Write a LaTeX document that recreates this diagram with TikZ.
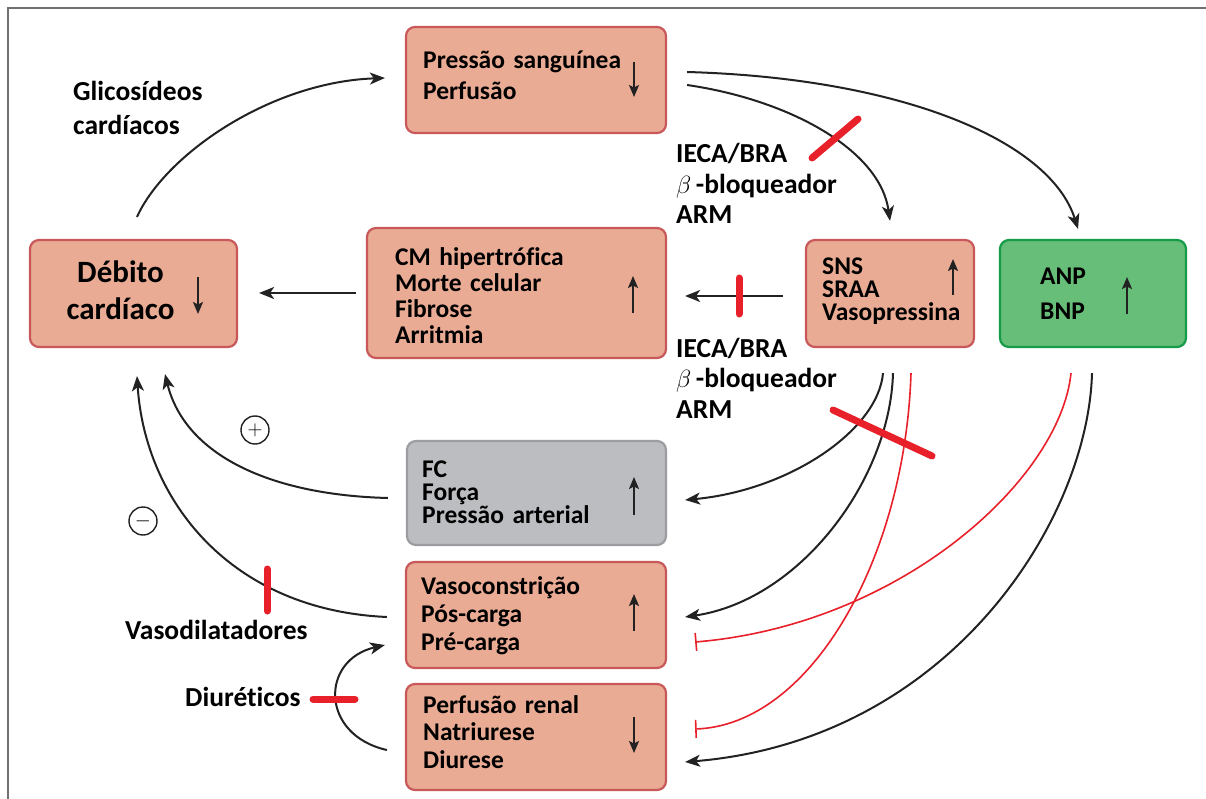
\documentclass[tikz,border=0pt]{standalone}
\usepackage{fontspec}
\setmainfont{Carlito}[Ligatures=NoCommon]
\usetikzlibrary{arrows.meta,calc}
\definecolor{salmon}{HTML}{EAAB94}
\definecolor{salmonline}{HTML}{C9585A}
\definecolor{grayfill}{HTML}{BCBDC1}
\definecolor{grayline}{HTML}{9C9DA1}
\definecolor{greenfill}{HTML}{66BE78}
\definecolor{greenline}{HTML}{169B48}
\definecolor{redc}{HTML}{E8202A}
\definecolor{ink}{HTML}{222222}
\definecolor{framec}{HTML}{707070}
\begin{document}
\begin{tikzpicture}[x=1pt,y=-1pt,
  boxbase/.style={draw, line width=2.2pt, rounded corners=9pt, inner sep=0pt},
  sbox/.style={boxbase, draw=salmonline, fill=salmon},
  gbox/.style={boxbase, draw=grayline, fill=grayfill},
  nbox/.style={boxbase, draw=greenline, fill=greenfill},
  btxt/.style={font=\bfseries\fontsize{25.5}{#1}\selectfont, anchor=base west, align=left, text width=250pt, inner sep=0pt, text=black},
  ltxt/.style={font=\bfseries\fontsize{27.5}{#1}\selectfont, anchor=base west, align=left, text width=250pt, inner sep=0pt, text=black},
  conn/.style={draw=ink, line width=2pt, -{Stealth[length=15pt,width=12pt,inset=4pt]}},
  inarr/.style={draw=ink, line width=2pt, -{Stealth[length=12pt,width=10pt,inset=2.5pt]}},
  inh/.style={draw=redc, line width=1.6pt, -{Bar[width=18pt]}},
  blocker/.style={draw=redc, line width=7pt, line cap=round},
  circ/.style={draw=ink, circle, line width=1.4pt, minimum size=28pt, inner sep=0pt, font=\fontsize{20}{20}\selectfont}
]
\useasboundingbox (0,0) rectangle (1206,799);
\fill[white] (0,0) rectangle (1206,799);
% frame
\draw[framec, line width=1.8pt] (8,799) -- (8,8) -- (1206,8);

% boxes
\node[sbox, minimum width=260, minimum height=106] (pb) at (536,80) {};
\node[sbox, minimum width=207, minimum height=107] (dc) at (133.5,293.5) {};
\node[sbox, minimum width=299, minimum height=130] (cm) at (516.5,293) {};
\node[sbox, minimum width=168, minimum height=107] (sns) at (890,293.5) {};
\node[nbox, minimum width=186, minimum height=107] (anp) at (1093,293.5) {};
\node[gbox, minimum width=259, minimum height=104] (fc) at (536.5,493) {};
\node[sbox, minimum width=260, minimum height=106] (vc) at (536,615) {};
\node[sbox, minimum width=260, minimum height=106] (pr) at (536,737) {};

% box texts
\node[btxt=31] (pbt) at (423,69) {Pressão sanguínea\\Perfusão};
\node[font=\bfseries\fontsize{31}{37}\selectfont, anchor=base, align=center, text width=160pt, inner sep=0pt] (dct) at (120.5,283) {Débito\\cardíaco};
\node[btxt=25.7] (cmt) at (395,266) {CM hipertrófica\\Morte celular\\Fibrose\\Arritmia};
\node[btxt=23] (snst) at (822,275) {SNS\\SRAA\\Vasopressina};
\node[btxt=35] (anpt) at (1040,285) {ANP\\BNP};
\node[btxt=23] (fct) at (422,477) {FC\\Força\\Pressão arterial};
\node[btxt=28] (vct) at (421,594) {Vasoconstrição\\Pós-carga\\Pré-carga};
\node[btxt=27.5] (prt) at (423,713) {Perfusão renal\\Natriurese\\Diurese};

% arrows inside boxes
\draw[inarr] (634,62) -- (634,97);
\draw[inarr] (198,277) -- (198,314);
\draw[inarr] (633,313) -- (633,276);
\draw[inarr] (953,295) -- (953,259);
\draw[inarr] (1127,314) -- (1127,277);
\draw[inarr] (634,515) -- (634,477);
\draw[inarr] (634,631) -- (634,594);
\draw[inarr] (634,717) -- (634,753);

% labels
\node[ltxt=34] (glic) at (73,101) {Glicosídeos\\cardíacos};
\node[ltxt=30.5] (drug1) at (676,163) {IECA/BRA\\$\beta$\,-bloqueador\\ARM};
\node[ltxt=30.5] (drug2) at (676,357) {IECA/BRA\\$\beta$\,-bloqueador\\ARM};
\node[ltxt=30] (vasod) at (125,639) {Vasodilatadores};
\node[ltxt=30] (diur) at (185,706) {Diuréticos};
\node[circ] (plus) at (255,430) {$+$};
\node[circ] (minus) at (143,521) {$-$};

% connectors
\draw[conn] ($(dc.north)+(3.5,-22)$) .. controls (165,155) and (270,82) .. ($(pb.west)+(-20,-2)$);
\draw[conn] ($(cm.west)+(-10,0)$) -- ($(dc.east)+(21,-0.5)$);
\draw[conn] ($(sns.west)+(-22,2.5)$) -- ($(cm.east)+(18,3)$);
\draw[conn] ($(pb.east)+(20,5)$) .. controls (790,100) and (880,150) .. ($(sns.north)+(0,-18)$);
\draw[conn] ($(pb.east)+(20,-8)$) .. controls (900,78) and (1050,140) .. ($(anp.north)+(-15,-10)$);
\draw[conn] ($(sns.south)+(-7,25)$) .. controls (878,430) and (790,490) .. ($(fc.east)+(18,7)$);
\draw[conn] ($(sns.south)+(3,25)$) .. controls (890,480) and (800,600) .. ($(vc.east)+(18,2)$);
\draw[inh] ($(sns.south)+(21,25)$) .. controls (905,560) and (810,725) .. ($(pr.east)+(28,-8)$);
\draw[inh] ($(anp.south)+(-22,25)$) .. controls (1060,480) and (900,625) .. ($(vc.east)+(28,27)$);
\draw[conn] ($(anp.south)+(-1,25)$) .. controls (1088,520) and (950,740) .. ($(pr.east)+(18,25)$);
\draw[conn] ($(fc.west)+(-18,5)$) .. controls (270,495) and (185,455) .. ($(dc.south)+(31.5,26)$);
\draw[conn] ($(vc.west)+(-18,2)$) .. controls (230,610) and (145,500) .. ($(dc.south)+(3.5,28)$);
\draw[conn] ($(pr.west)+(-18,13)$) .. controls (320,735) and (320,660) .. ($(vc.west)+(-20,30)$);

% blockers
\draw[blocker] (812,158) -- (858,119);
\draw[blocker] (739,278) -- (739,314);
\draw[blocker] (833,410) -- (932,456);
\draw[blocker] (267,569) -- (267,611);
\draw[blocker] (313,699) -- (355,699);
\end{tikzpicture}
\end{document}
